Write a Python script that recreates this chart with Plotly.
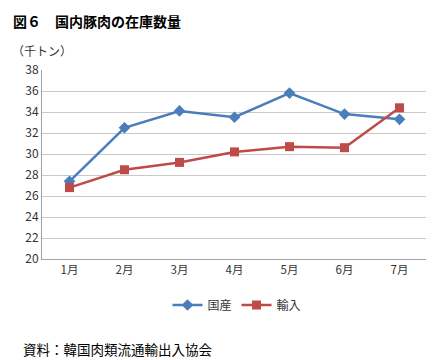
import plotly.graph_objects as go

months = ["1月", "2月", "3月", "4月", "5月", "6月", "7月"]
domestic = [27.4, 32.5, 34.1, 33.5, 35.8, 33.8, 33.3]
imported = [26.8, 28.5, 29.2, 30.2, 30.7, 30.6, 34.4]
y_ticks = list(range(20, 40, 2))

FONT = "Noto Sans CJK JP"
OFF = 8  # page body margin
W, H = 434 - OFF, 360 - OFF
L, R, T, B = 42 - OFF, 7, 70 - OFF, 101
PW, PH = W - L - R, H - T - B

def px(x):
    return (x - OFF - L) / PW

def py(y):
    return (H - B - (y - OFF)) / PH

fig = go.Figure()
fig.add_trace(go.Scatter(x=months, y=domestic, name="国産", mode="lines+markers",
                         line=dict(color="#4A7EBB", width=2.5),
                         marker=dict(symbol="diamond", size=9, color="#4A7EBB")))
fig.add_trace(go.Scatter(x=months, y=imported, name="輸入", mode="lines+markers",
                         line=dict(color="#BE4B48", width=2.5),
                         marker=dict(symbol="square", size=9, color="#BE4B48")))

fig.update_layout(
    width=W, height=H,
    margin=dict(l=L, r=R, t=T, b=B),
    paper_bgcolor="white", plot_bgcolor="white",
    font=dict(family=FONT, size=12, color="#333333"),
    showlegend=True,
    legend=dict(orientation="h", x=px(237), xanchor="center", y=py(305), yanchor="middle",
                font=dict(size=12, color="#333333"), tracegroupgap=0),
    xaxis=dict(range=[-0.5, 6.5], showgrid=False, showline=True, linecolor="#A0A0A0",
               linewidth=1, ticks="", tickfont=dict(size=11.5), ticklen=0),
    yaxis=dict(range=[20, 38], tickvals=y_ticks + [38], showgrid=True, gridcolor="#C8C8C8",
               gridwidth=1, showline=True, linecolor="#A0A0A0", linewidth=1,
               ticks="", tickfont=dict(size=12), zeroline=False),
    annotations=[
        dict(text="<b>図６　国内豚肉の在庫数量</b>", xref="paper", yref="paper",
             x=px(11), y=py(9), xanchor="left", yanchor="top", showarrow=False,
             font=dict(size=14, color="#000000", family=FONT)),
        dict(text="（千トン）", xref="paper", yref="paper",
             x=px(10), y=py(50), xanchor="left", yanchor="middle", showarrow=False,
             font=dict(size=12, color="#333333", family=FONT)),
        dict(text="資料：韓国肉類流通輸出入協会", xref="paper", yref="paper",
             x=px(21), y=py(349), xanchor="left", yanchor="middle", showarrow=False,
             font=dict(size=13.5, color="#000000", family=FONT)),
    ],
)

fig.write_html("out.html")
